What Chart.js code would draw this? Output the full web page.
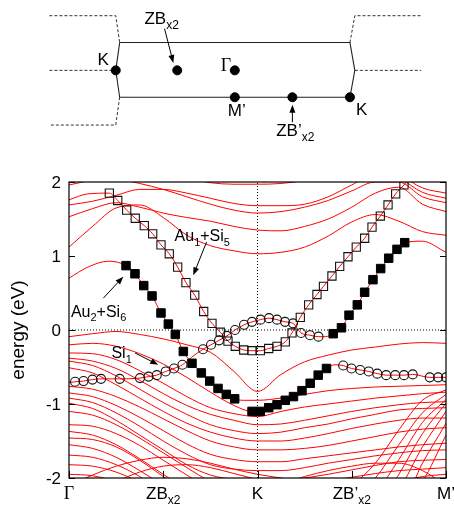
<!DOCTYPE html>
<html>
<head>
<meta charset="utf-8">
<script src="https://cdn.jsdelivr.net/npm/chart.js@4.4.0/dist/chart.umd.min.js"></script>
<style>
    html, body { margin: 0; padding: 0; background: #fff; }
    #bz { position: absolute; left: 0; top: 0; }
    #bandas { position: absolute; left: 0; top: 150px; }
</style>
</head>
<body>
<canvas id="bz" width="454" height="150"></canvas>
<canvas id="bandas" width="454" height="357"></canvas>
<script>
// ---------- dados: caminho no espaço k ----------
const kPontos = [0, 1, 2, 3, 4];
const kRotulos = [['Γ'], ['ZB', 'x2'], ['K'], ['ZB’', 'x2'], ['M’']];
const energiaTicks = [-2, -1, 0, 1, 2];
const kGrade = [0, 0.25, 0.5, 0.75, 1, 1.25, 1.5, 1.75, 2, 2.25, 2.5, 2.75, 3, 3.25, 3.5, 3.75, 4];

const bandaT0 = [1.96, 2.03, 2.12, 2.15, 2.12, 2.05, 1.99, 1.97, 1.97, 1.98, 2.02, 2.08, 2.15, 2.2, 2.1, 1.92, 1.85];
const bandaUA = [1.69, 1.74, 1.82, 1.90, 1.90, 1.85, 1.78, 1.71, 1.68, 1.68, 1.70, 1.80, 1.96, 2.1, 2.05, 1.86, 1.78];
const bandaUB = [2.1, 2.1, 2.05, 1.98, 1.90, 1.80, 1.70, 1.62, 1.58, 1.60, 1.66, 1.75, 1.88, 2.0, 2.0, 1.80, 1.72];
const bandaU2 = [1.53, 1.64, 1.72, 1.66, 1.58, 1.52, 1.47, 1.40, 1.35, 1.34, 1.40, 1.50, 1.66, 1.85, 1.93, 1.70, 1.60];
const bandaU1 = [1.12, 1.40, 1.65, 1.69, 1.52, 1.28, 1.14, 1.07, 1.03, 1.05, 1.12, 1.27, 1.46, 1.56, 1.47, 1.33, 1.28];
const bandaV1 = [-0.09, -0.05, -0.02, -0.06, -0.12, -0.20, -0.30, -0.56, -0.83, -0.60, -0.43, -0.34, -0.27, -0.23, -0.19, -0.17, -0.18];
const bandaA1 = [-0.31, -0.32, -0.40, -0.55, -0.72, -0.90, -1.05, -1.13, -1.17, -1.10, -1.04, -1.00, -0.96, -0.92, -0.89, -0.86, -0.84];
const bandaB1 = [-0.38, -0.42, -0.52, -0.68, -0.86, -1.02, -1.14, -1.22, -1.28, -1.27, -1.22, -1.16, -1.10, -1.05, -1.01, -0.98, -0.97];
const bandaB2 = [-0.42, -0.48, -0.62, -0.80, -0.98, -1.14, -1.28, -1.36, -1.40, -1.38, -1.32, -1.27, -1.20, -1.14, -1.08, -1.06, -1.05];
const bandaB3 = [-0.51, -0.58, -0.74, -0.92, -1.10, -1.26, -1.38, -1.46, -1.50, -1.50, -1.46, -1.40, -1.33, -1.27, -1.22, -1.19, -1.19];
const bandaB4 = [-0.76, -0.80, -0.90, -1.04, -1.20, -1.36, -1.50, -1.58, -1.62, -1.62, -1.60, -1.56, -1.50, -1.44, -1.38, -1.34, -1.32];
const bandaB5 = [-0.85, -0.90, -1.02, -1.18, -1.36, -1.54, -1.68, -1.75, -1.78, -1.78, -1.74, -1.70, -1.66, -1.62, -1.58, -1.55, -1.53];
const bandaB6 = [-0.92, -0.98, -1.12, -1.30, -1.50, -1.68, -1.82, -1.88, -1.90, -1.90, -1.86, -1.80, -1.75, -1.70, -1.66, -1.63, -1.62];
const bandaB7 = [-0.99, -1.06, -1.22, -1.42, -1.62, -1.82, -1.96, -2.02, -2.05, -2.04, -2.00, -1.95, -1.89, -1.83, -1.78, -1.76, -1.75];
const bandaB8 = [-2.3, -2.3, -2.3, -2.3, -2.3, -2.3, -2.25, -2.2, -2.15, -2.12, -2.08, -2.04, -1.99, -1.94, -1.90, -1.88, -1.86];
const bandaB9 = [-2.4, -2.4, -2.4, -2.4, -2.4, -2.4, -2.4, -2.4, -2.4, -2.35, -2.3, -2.25, -2.2, -2.12, -2.05, -1.98, -1.95];
const bandaS1 = [-1.10, -1.15, -1.28, -1.46, -1.66, -1.86, -2.05, -2.2, -2.3, -2.3, -2.3, -2.25, -2.1, -1.80, -1.35, -0.95, -0.81];
const bandaS2 = [-1.28, -1.30, -1.40, -1.56, -1.76, -1.96, -2.15, -2.3, -2.4, -2.4, -2.4, -2.4, -2.3, -2.0, -1.55, -1.12, -0.87];
const bandaS3 = [-1.37, -1.42, -1.55, -1.74, -1.95, -2.15, -2.3, -2.4, -2.4, -2.4, -2.4, -2.4, -2.4, -2.2, -1.75, -1.25, -0.94];
const bandaS4 = [-1.46, -1.48, -1.58, -1.76, -1.98, -2.2, -2.4, -2.4, -2.4, -2.4, -2.4, -2.4, -2.4, -2.4, -1.95, -1.40, -0.99];
const bandaS5 = [-1.55, -1.60, -1.72, -1.90, -2.1, -2.3, -2.4, -2.4, -2.4, -2.4, -2.4, -2.4, -2.4, -2.4, -2.15, -1.58, -1.10];
const bandaS6 = [-1.69, -1.72, -1.82, -1.98, -2.2, -2.4, -2.4, -2.4, -2.4, -2.4, -2.4, -2.4, -2.4, -2.4, -2.4, -1.80, -1.26];
const bandaS7 = [-1.82, -1.84, -1.92, -2.06, -2.25, -2.4, -2.4, -2.4, -2.4, -2.4, -2.4, -2.4, -2.4, -2.4, -2.4, -2.05, -1.42];
const bandaS8 = [-1.95, -1.97, -2.05, -2.2, -2.4, -2.4, -2.4, -2.4, -2.4, -2.4, -2.4, -2.4, -2.4, -2.4, -2.4, -2.4, -2.4];
const bandaG1 = [-2.10, -1.96, -1.84, -1.76, -1.72, -1.74, -1.80, -1.88, -1.95, -2.0, -2.05, -2.1, -2.15, -2.2, -2.3, -2.3, -2.3];
const bandaG2 = [-2.3, -2.2, -2.05, -1.92, -1.84, -1.82, -1.86, -1.94, -2.02, -2.1, -2.2, -2.3, -2.3, -2.3, -2.3, -2.3, -2.3];
const bandaD1 = [-2.4, -2.4, -2.4, -2.4, -2.4, -2.4, -2.35, -2.28, -2.2, -2.08, -1.98, -1.90, -1.84, -1.80, -1.80, -1.90, -2.1];

// marcadores (k, eV)
const quadAbertos = [[0.428, 1.85], [0.517, 1.75], [0.612, 1.62], [0.703, 1.51], [0.799, 1.41], [0.888, 1.30], [0.976, 1.15], [1.064, 1.03], [1.153, 0.85], [1.241, 0.64], [1.334, 0.47], [1.429, 0.25], [1.517, 0.09], [1.605, -0.03], [1.687, -0.15], [1.764, -0.22], [1.854, -0.27], [1.942, -0.28], [2.030, -0.28], [2.119, -0.25], [2.207, -0.22], [2.295, -0.16], [2.366, -0.04], [2.454, 0.17], [2.543, 0.34], [2.631, 0.48], [2.700, 0.59], [2.790, 0.73], [2.872, 0.86], [2.960, 0.99], [3.048, 1.12], [3.137, 1.24], [3.215, 1.39], [3.303, 1.54], [3.385, 1.69], [3.466, 1.84], [3.554, 1.96]];
const quadCheiosA = [[0.605, 0.87], [0.700, 0.76], [0.793, 0.60], [0.881, 0.46], [0.976, 0.23], [1.054, 0.08], [1.128, -0.06], [1.213, -0.29], [1.305, -0.45], [1.404, -0.58], [1.493, -0.69], [1.581, -0.79], [1.669, -0.87], [1.758, -0.93]];
const quadCheiosB = [[1.942, -1.10], [2.030, -1.10], [2.119, -1.05], [2.207, -1.01], [2.295, -0.95], [2.382, -0.90], [2.472, -0.82], [2.559, -0.72], [2.644, -0.61], [2.732, -0.52]];
const quadCheiosC = [[2.803, -0.05], [2.891, 0.03], [2.971, 0.20], [3.059, 0.34], [3.137, 0.51], [3.225, 0.68], [3.307, 0.83], [3.392, 0.97], [3.480, 1.09], [3.562, 1.18]];
const circulosA = [[0.064, -0.70], [0.154, -0.69], [0.249, -0.67], [0.340, -0.66], [0.538, -0.66], [0.753, -0.65], [0.844, -0.63], [0.931, -0.61], [1.026, -0.56], [1.114, -0.52], [1.204, -0.47]];
const circulosB = [[1.422, -0.26], [1.507, -0.20], [1.592, -0.14], [1.676, -0.08], [1.761, 0.00], [1.857, 0.07], [1.942, 0.11], [2.032, 0.14], [2.122, 0.16], [2.207, 0.14], [2.292, 0.11], [2.377, 0.09], [2.462, -0.04], [2.557, -0.07], [2.647, -0.09]];
const circulosC = [[2.909, -0.48], [2.997, -0.52], [3.090, -0.54], [3.180, -0.56], [3.271, -0.59], [3.365, -0.61], [3.461, -0.61], [3.554, -0.61], [3.647, -0.60], [3.828, -0.64], [3.917, -0.64], [4.0, -0.64]];

// linhas vermelhas que passam pelos marcadores
const linhaQuadAbertos = [[0, 1.76], [0.2, 1.84]].concat(quadAbertos, [[3.65, 2.1]]);
const linhaCheiosA = [[0, 0.70], [0.2, 0.85], [0.42, 0.93]].concat(quadCheiosA, [[1.85, -0.95], [2.0, -0.95], [2.25, -0.92], [2.5, -0.87], [2.75, -0.82], [3.0, -0.79], [3.25, -0.77], [3.5, -0.76], [3.75, -0.75], [4.0, -0.74]]);
const linhaCheiosB = [[0, -0.20], [0.25, -0.18], [0.5, -0.22], [0.75, -0.32], [1.0, -0.46], [1.25, -0.64], [1.5, -0.84], [1.75, -1.02]].concat(quadCheiosB, [[2.82, -0.47]], circulosC);
const linhaCirculos = [[0, -0.71]].concat(circulosA, [[1.3, -0.37]], circulosB, [[2.72, -0.09]], quadCheiosC, [[3.75, 1.20], [4.0, 1.05]]);

// anotações (k, eV)
const anotacoes = [
    { partes: ['Au', '1', '+Si', '5'], em: [1.12, 1.20], de: [1.46, 1.19], para: [1.318, 0.74] },
    { partes: ['Au', '2', '+Si', '6'], em: [0.02, 0.18], de: [0.364, 0.43], para: [0.576, 0.72] },
    { partes: ['Si', '1'], em: [0.45, -0.38], de: [0.70, -0.31], para: [0.947, -0.47] }
];

// ---------- dados: zona de Brillouin (Γ na origem) ----------
const bzCaixa = [[-118, 30], [118, 30], [123, 0], [118, -29], [-118, -29], [-122, 0], [-118, 30]];
const bzTracejadas = [
    [[-190, 59], [-122, 59], [-118, 30]],
    [[-190, 0], [-122, 0]],
    [[-118, -29], [-122, -59], [-190, -59]],
    [[118, 30], [123, 59], [191, 59]],
    [[123, 0], [191, 0]]
];
const bzPontos = [[-122, 0], [-59, 0], [0, 0], [0, -29], [59, -29], [118, -29]];
const bzRotulos = [
    { partes: ['K'], em: [-135, 6] },
    { partes: ['ZB', 'x2'], em: [-75, 50] },
    { partes: ['Γ'], em: [-9, -1] },
    { partes: ['M’'], em: [2, -49] },
    { partes: ['ZB’', 'x2'], em: [62, -71] },
    { partes: ['K'], em: [130, -48] }
];
const bzSetas = [
    { de: [-72, 45], para: [-63, 8] },
    { de: [59, -56], para: [59, -37] }
];

const fonteSans = '"Liberation Sans", Arial, sans-serif';

function escreverSub(ctx, partes, x, y, tam, alinhar) {
    const fonte = (p, i) => i % 2 ? Math.round(tam * 0.7) + 'px ' + fonteSans
        : (p === 'Γ' ? (tam + 1) + 'px "Liberation Serif", serif' : tam + 'px ' + fonteSans);
    let largura = 0;
    partes.forEach((p, i) => { ctx.font = fonte(p, i); largura += ctx.measureText(p).width; });
    let cx = alinhar === 'center' ? x - largura / 2 : (alinhar === 'right' ? x - largura : x);
    ctx.textAlign = 'left';
    ctx.textBaseline = 'alphabetic';
    partes.forEach((p, i) => {
        ctx.font = fonte(p, i);
        ctx.fillText(p, cx, i % 2 ? y + tam * 0.3 : y);
        cx += ctx.measureText(p).width;
    });
}

function seta(ctx, x1, y1, x2, y2) {
    const ang = Math.atan2(y2 - y1, x2 - x1);
    ctx.beginPath();
    ctx.moveTo(x1, y1);
    ctx.lineTo(x2 - 6 * Math.cos(ang), y2 - 6 * Math.sin(ang));
    ctx.stroke();
    ctx.beginPath();
    ctx.moveTo(x2, y2);
    ctx.lineTo(x2 - 8 * Math.cos(ang) + 3 * Math.sin(ang), y2 - 8 * Math.sin(ang) - 3 * Math.cos(ang));
    ctx.lineTo(x2 - 8 * Math.cos(ang) - 3 * Math.sin(ang), y2 - 8 * Math.sin(ang) + 3 * Math.cos(ang));
    ctx.closePath();
    ctx.fill();
}

const pares = arr => arr.map(p => ({ x: p[0], y: p[1] }));

// ---------- gráfico da zona de Brillouin ----------
const bzPlugin = {
    id: 'bzTextos',
    afterDraw(chart) {
        const ctx = chart.ctx, sx = chart.scales.x, sy = chart.scales.y;
        ctx.save();
        ctx.fillStyle = '#000';
        ctx.strokeStyle = '#000';
        ctx.lineWidth = 1;
        bzRotulos.forEach(r => escreverSub(ctx, r.partes, sx.getPixelForValue(r.em[0]), sy.getPixelForValue(r.em[1]), 17, 'center'));
        bzSetas.forEach(s => seta(ctx, sx.getPixelForValue(s.de[0]), sy.getPixelForValue(s.de[1]), sx.getPixelForValue(s.para[0]), sy.getPixelForValue(s.para[1])));
        ctx.restore();
    }
};

let graficoBZ = new Chart(document.getElementById('bz'), {
    type: 'scatter',
    data: {
        datasets: [
            { data: pares(bzPontos), pointRadius: 4.5, backgroundColor: '#000', borderColor: '#000', showLine: false },
            { data: pares(bzCaixa), showLine: true, pointRadius: 0, borderColor: '#222', borderWidth: 1.1 },
        ].concat(bzTracejadas.map(t => ({
            data: pares(t), showLine: true, pointRadius: 0, borderColor: '#333', borderWidth: 1, borderDash: [3, 2]
        })))
    },
    options: {
        responsive: false,
        animation: false,
        events: [],
        layout: { padding: 0 },
        scales: {
            x: { type: 'linear', min: -235, max: 219, display: false },
            y: { type: 'linear', min: -80, max: 70, display: false }
        },
        plugins: { legend: { display: false }, tooltip: { enabled: false } }
    },
    plugins: [bzPlugin]
});

// ---------- gráfico de bandas ----------
const bandasGrade = [bandaT0, bandaUA, bandaUB, bandaU2, bandaU1, bandaV1, bandaA1, bandaB1, bandaB2, bandaB3, bandaB4,
    bandaB5, bandaB6, bandaB7, bandaB8, bandaB9, bandaS1, bandaS2, bandaS3, bandaS4, bandaS5, bandaS6, bandaS7, bandaS8,
    bandaG1, bandaG2, bandaD1];
const linhasMarcadores = [linhaQuadAbertos, linhaCheiosA, linhaCheiosB, linhaCirculos];

const estiloVermelho = {
    showLine: true, pointRadius: 0, borderColor: '#ff0000', borderWidth: 1,
    cubicInterpolationMode: 'monotone', order: 2
};

const molduraPlugin = {
    id: 'moldura',
    afterDraw(chart) {
        const ctx = chart.ctx, a = chart.chartArea, sx = chart.scales.x, sy = chart.scales.y;
        ctx.save();
        ctx.strokeStyle = '#000';
        ctx.fillStyle = '#000';
        ctx.lineWidth = 1.2;
        ctx.strokeRect(a.left, a.top, a.right - a.left, a.bottom - a.top);

        // ticks para dentro
        ctx.lineWidth = 1;
        ctx.beginPath();
        energiaTicks.forEach(v => {
            const y = Math.round(sy.getPixelForValue(v)) + 0.5;
            ctx.moveTo(a.left, y); ctx.lineTo(a.left + 6, y);
            ctx.moveTo(a.right, y); ctx.lineTo(a.right - 6, y);
        });
        kPontos.forEach(k => {
            const x = Math.round(sx.getPixelForValue(k)) + 0.5;
            ctx.moveTo(x, a.bottom); ctx.lineTo(x, a.bottom - 7);
        });
        ctx.stroke();

        // rótulos
        energiaTicks.forEach(v => escreverSub(ctx, [String(v)], a.left - 8, sy.getPixelForValue(v) + 6, 17, 'right'));
        kPontos.forEach((k, i) => escreverSub(ctx, kRotulos[i], sx.getPixelForValue(k), a.bottom + 21, 17, 'center'));

        ctx.save();
        ctx.translate(19, (a.top + a.bottom) / 2);
        ctx.rotate(-Math.PI / 2);
        ctx.font = '19px ' + fonteSans;
        ctx.textAlign = 'center';
        ctx.textBaseline = 'middle';
        ctx.fillText('energy (eV)', 0, 0);
        ctx.restore();

        anotacoes.forEach(n => {
            escreverSub(ctx, n.partes, sx.getPixelForValue(n.em[0]), sy.getPixelForValue(n.em[1]), 16, 'left');
            seta(ctx, sx.getPixelForValue(n.de[0]), sy.getPixelForValue(n.de[1]), sx.getPixelForValue(n.para[0]), sy.getPixelForValue(n.para[1]));
        });
        ctx.restore();
    }
};

let graficoBandas = new Chart(document.getElementById('bandas'), {
    type: 'scatter',
    data: {
        datasets: [
            { data: pares(quadAbertos), pointStyle: 'rect', pointRadius: 5.8, borderColor: '#111', borderWidth: 1.1, backgroundColor: 'rgba(0,0,0,0)', order: 0 },
            { data: pares(quadCheiosA.concat(quadCheiosB, quadCheiosC)), pointStyle: 'rect', pointRadius: 6.0, borderColor: '#000', borderWidth: 1, backgroundColor: '#000', order: 0 },
            { data: pares(circulosA.concat(circulosB, circulosC)), pointStyle: 'circle', pointRadius: 4.5, borderColor: '#111', borderWidth: 1.1, backgroundColor: 'rgba(0,0,0,0)', order: 0 },
            { data: [{ x: 0, y: 0 }, { x: 4, y: 0 }], showLine: true, pointRadius: 0, borderColor: '#000', borderWidth: 1, borderDash: [1, 2], order: 3 },
            { data: [{ x: 2, y: -2 }, { x: 2, y: 2 }], showLine: true, pointRadius: 0, borderColor: '#000', borderWidth: 1, borderDash: [1, 2], order: 3 }
        ]
            .concat(linhasMarcadores.map(l => Object.assign({ data: pares(l) }, estiloVermelho)))
            .concat(bandasGrade.map(b => Object.assign({ data: b.map((e, i) => ({ x: kGrade[i], y: e })) }, estiloVermelho)))
    },
    options: {
        responsive: false,
        animation: false,
        events: [],
        layout: { padding: { left: 69, right: 8, top: 32, bottom: 29 } },
        scales: {
            x: { type: 'linear', min: 0, max: 4, display: false },
            y: { type: 'linear', min: -2, max: 2, display: false }
        },
        plugins: { legend: { display: false }, tooltip: { enabled: false } }
    },
    plugins: [molduraPlugin]
});
</script>
</body>
</html>
